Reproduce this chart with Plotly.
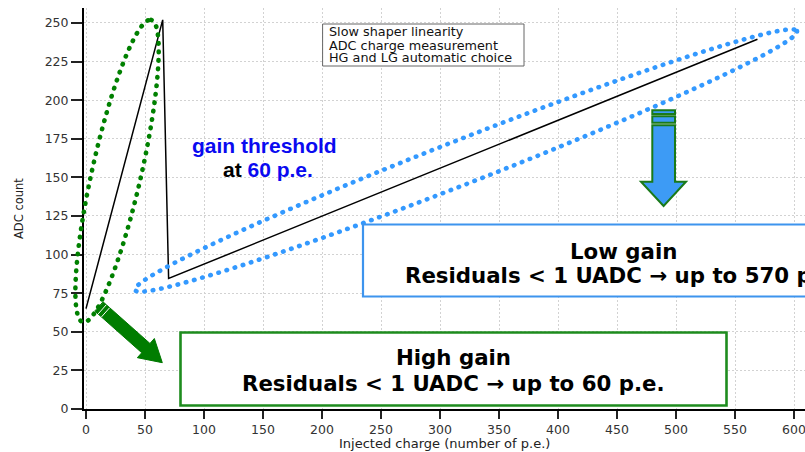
import numpy as np
import plotly.graph_objects as go

# Slow shaper response: ADC count versus injected charge (p.e.)
charge_pe = [0, 65, 70, 569]
adc_count = [65, 252, 84.5, 239.5]

x_ticks = list(range(0, 601, 50))
y_ticks = list(range(0, 251, 25))

info_lines = ["Slow shaper linearity", "ADC charge measurement", "HG and LG automatic choice"]

X_RANGE = [-1.7, 609.3]
Y_RANGE = [0, 259.7]

FIG_W, FIG_H = 805, 452
M_L, M_R, M_T, M_B = 84, 0, 8, 43
PW = FIG_W - M_L - M_R
PH = FIG_H - M_T - M_B

GREEN = "#0a840a"
BLUE_DOT = "#3399ff"
BLUE_TXT = "#0a0af0"


def px(x, y):
    """Pixel position on the page -> paper coordinates."""
    return (x - M_L) / PW, 1 - (y - M_T) / PH


def dat(x, y):
    """Data coordinates -> paper coordinates (linear axes)."""
    return ((x - X_RANGE[0]) / (X_RANGE[1] - X_RANGE[0]),
            (y - Y_RANGE[0]) / (Y_RANGE[1] - Y_RANGE[0]))


def path_from(points, close=True):
    s = "M " + " L ".join(f"{a:.5f},{b:.5f}" for a, b in points)
    return s + (" Z" if close else "")


def ellipse_path(center, semi_a, semi_b, n=160):
    t = np.linspace(0, 2 * np.pi, n, endpoint=False)
    pts = []
    for tt in t:
        x = center[0] + semi_a[0] * np.cos(tt) + semi_b[0] * np.sin(tt)
        y = center[1] + semi_a[1] * np.cos(tt) + semi_b[1] * np.sin(tt)
        pts.append(dat(x, y))
    return path_from(pts)


fig = go.Figure()
fig.add_trace(go.Scatter(x=charge_pe, y=adc_count, mode="lines",
                         line=dict(color="black", width=1.5),
                         showlegend=False, hoverinfo="skip"))

shapes = []

# dotted ellipses around the high-gain and low-gain regions (data units)
hg_ellipse = dict(center=(26.3, 154.1), a=(28.9, 97.9), b=(20.3, -3.5))
lg_ellipse = dict(center=(322.0, 160.9), a=(280.5, 83.9), b=(6.8, -13.3))
for ell, col in ((hg_ellipse, "#008000"), (lg_ellipse, BLUE_DOT)):
    shapes.append(dict(type="path", xref="paper", yref="paper",
                       path=ellipse_path(ell["center"], ell["a"], ell["b"]),
                       line=dict(color=col, width=4.6, dash="0.5px,8px"),
                       fillcolor="rgba(0,0,0,0)", layer="above"))

# info box
x0, y0 = px(323, 24)
x1, y1 = px(524, 66)
shapes.append(dict(type="rect", xref="paper", yref="paper", x0=x0, y0=y1, x1=x1, y1=y0,
                   line=dict(color="#666", width=1), fillcolor="white", layer="above"))

# low gain box (runs off the right edge)
x0, y0 = px(363, 224.5)
x1, y1 = px(890, 296.5)
shapes.append(dict(type="rect", xref="paper", yref="paper", x0=x0, y0=y1, x1=x1, y1=y0,
                   line=dict(color="#3d94ee", width=2.2), fillcolor="white", layer="above"))

# high gain box
x0, y0 = px(180.5, 332.5)
x1, y1 = px(726.5, 405.5)
shapes.append(dict(type="rect", xref="paper", yref="paper", x0=x0, y0=y1, x1=x1, y1=y0,
                   line=dict(color="#1e8c1e", width=2.6), fillcolor="white", layer="above"))

# green arrow pointing to the high gain box
T = np.array([99.2, 306.7])
P = np.array([162.3, 362.7])
u = (P - T) / np.linalg.norm(P - T)
nrm = np.array([-u[1], u[0]])
w, hw, hl = 6.2, 12.8, 22.0
H0 = P - u * hl
arrow = [T + nrm * w, H0 + nrm * w, H0 + nrm * hw, P, H0 - nrm * hw, H0 - nrm * w, T - nrm * w]
shapes.append(dict(type="path", xref="paper", yref="paper",
                   path=path_from([px(*p) for p in arrow]),
                   line=dict(color="#007800", width=1), fillcolor="#007d00", layer="above"))
for d in (4.0, 8.5):
    a = T + u * d + nrm * (w - 0.5)
    b = T + u * d - nrm * (w - 0.5)
    shapes.append(dict(type="path", xref="paper", yref="paper",
                       path=path_from([px(*a), px(*b)], close=False),
                       line=dict(color="white", width=1), layer="above"))

# blue arrow pointing to the low gain box
blue_fill, blue_edge = "#3d9bf5", "#1a7a1a"
for ya, yb in ((110.3, 114.0), (116.3, 122.7)):
    x0, y0 = px(652.3, ya)
    x1, y1 = px(675.0, yb)
    shapes.append(dict(type="rect", xref="paper", yref="paper", x0=x0, y0=y1, x1=x1, y1=y0,
                       line=dict(color=blue_edge, width=2), fillcolor=blue_fill, layer="above"))
down = [(652.3, 125.3), (675.0, 125.3), (675.0, 181.7), (686.0, 181.7),
        (663.6, 206.0), (641.0, 181.7), (652.3, 181.7)]
shapes.append(dict(type="path", xref="paper", yref="paper",
                   path=path_from([px(*p) for p in down]),
                   line=dict(color=blue_edge, width=2), fillcolor=blue_fill, layer="above"))

annotations = []


def note(text, x, y, size, family="DejaVu Sans", color="black", xanchor="center", **kw):
    xp, yp = px(x, y)
    annotations.append(dict(text=text, x=xp, y=yp, xref="paper", yref="paper",
                            xanchor=xanchor, yanchor="middle", showarrow=False,
                            font=dict(family=family, size=size, color=color), **kw))


for line, yc in zip(info_lines, (31.7, 45.0, 57.7)):
    note(line, 326.5, yc, 12.8, color="#111", xanchor="left")

note("<b>gain threshold</b>", 264.2, 145.2, 21, family="Liberation Sans", color=BLUE_TXT)
note(f"<b>at <span style='color:{BLUE_TXT}'>60 p.e.</span></b>", 268.3, 169.6, 21,
     family="Liberation Sans")

note("<b>Low gain</b>", 623, 251.8, 21.3)
note("<b>Residuals &lt; 1 UADC → up to 570 p.e.</b>", 623, 275.2, 21.3)
note("<b>High gain</b>", 453.5, 357.8, 21.3)
note("<b>Residuals &lt; 1 UADC → up to 60 p.e.</b>", 453.5, 383.5, 21.3)

# axis titles
note("Injected charge (number of p.e.)", 444, 443.5, 13, color="#222")
note("ADC count", 18.5, 208.5, 11.5, color="#222", textangle=-90)

axis_common = dict(showline=True, linecolor="black", linewidth=2, ticks="outside",
                   tickcolor="#222", tickwidth=1.8, showgrid=True, gridcolor="#d2d2d2",
                   gridwidth=1, griddash="2px,2px", zeroline=False,
                   tickfont=dict(family="DejaVu Sans", size=12.5, color="#333"))

fig.update_layout(
    width=FIG_W, height=FIG_H,
    margin=dict(l=M_L, r=M_R, t=M_T, b=M_B),
    paper_bgcolor="white", plot_bgcolor="white",
    showlegend=False,
    xaxis=dict(range=X_RANGE, tickvals=x_ticks, ticklen=8, ticklabeloverflow="allow",
               **axis_common),
    yaxis=dict(range=Y_RANGE, tickvals=y_ticks, ticklen=11, **axis_common),
    shapes=shapes,
    annotations=annotations,
)

round_caps = ("var s=document.createElement('style');"
              "s.textContent='.shapelayer path{stroke-linecap:round}';"
              "document.head.appendChild(s);")
fig.write_html("out.html", post_script=round_caps)
